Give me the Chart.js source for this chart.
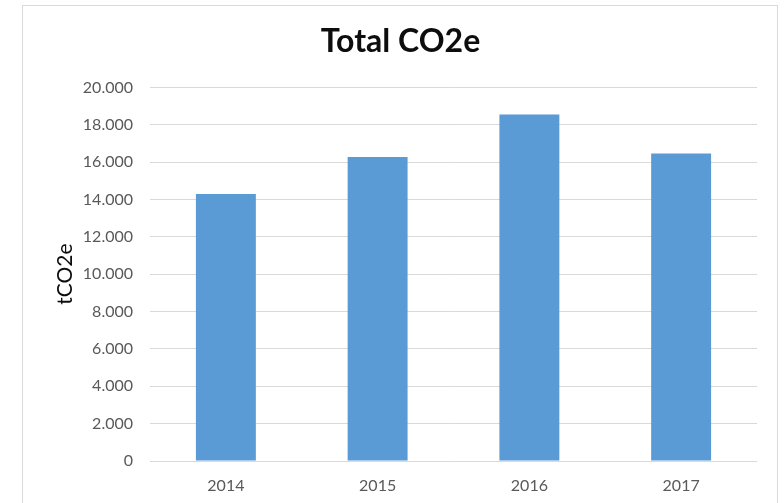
<!DOCTYPE html>
<html>
<head>
<meta charset="utf-8">
<script src="https://cdn.jsdelivr.net/npm/chart.js@4/dist/chart.umd.min.js"></script>
<style>
  html, body { margin: 0; padding: 0; background: #fff; }
  #wrap { position: relative; width: 784px; height: 503px; }
  #frame { position: absolute; left: 22px; top: 5px; width: 754px; height: 510px; border: 1px solid #d9d9d9; }
  canvas { position: absolute; left: 0; top: 0; }
</style>
</head>
<body>
<div id="wrap">
  <div id="frame"></div>
  <canvas id="c" width="784" height="503"></canvas>
</div>
<script>
const categories = ['2014', '2015', '2016', '2017'];
const totalCO2e = [14300, 16280, 18550, 16460];
const yTickLabels = ['0', '2.000', '4.000', '6.000', '8.000', '10.000', '12.000', '14.000', '16.000', '18.000', '20.000'];
const chartTitle = 'Total CO2e';
const yAxisTitle = 'tCO2e';

new Chart(document.getElementById('c'), {
  type: 'bar',
  data: {
    labels: categories,
    datasets: [{
      data: totalCO2e,
      backgroundColor: '#5b9bd5',
      borderWidth: 0,
      categoryPercentage: 1,
      barPercentage: 0.395
    }]
  },
  options: {
    responsive: false,
    animation: false,
    devicePixelRatio: 1,
    layout: { padding: { left: 44, right: 27, top: 0, bottom: 0 } },
    plugins: {
      legend: { display: false },
      tooltip: { enabled: false },
      title: {
        display: true,
        text: chartTitle,
        color: '#0d0d0d',
        font: { family: 'Lato', size: 32, weight: 'bold' },
        padding: { top: 22, bottom: 27 }
      }
    },
    scales: {
      x: {
        grid: { display: false },
        border: { display: false },
        ticks: {
          color: '#595959',
          font: { family: 'Lato', size: 16 },
          padding: 7
        },
        afterFit: s => { s.height = 42; }
      },
      y: {
        min: 0,
        max: 20000,
        ticks: {
          stepSize: 2000,
          color: '#595959',
          font: { family: 'Lato', size: 16 },
          padding: 17,
          callback: (v, i) => yTickLabels[i]
        },
        grid: { color: '#d9d9d9', lineWidth: 1, drawTicks: false },
        border: { display: false },
        title: {
          display: true,
          text: yAxisTitle,
          color: '#0d0d0d',
          font: { family: 'Lato', size: 21 },
          padding: { top: 9, bottom: 0 }
        },
        afterFit: s => { s.width = 106; }
      }
    }
  }
});
</script>
</body>
</html>
